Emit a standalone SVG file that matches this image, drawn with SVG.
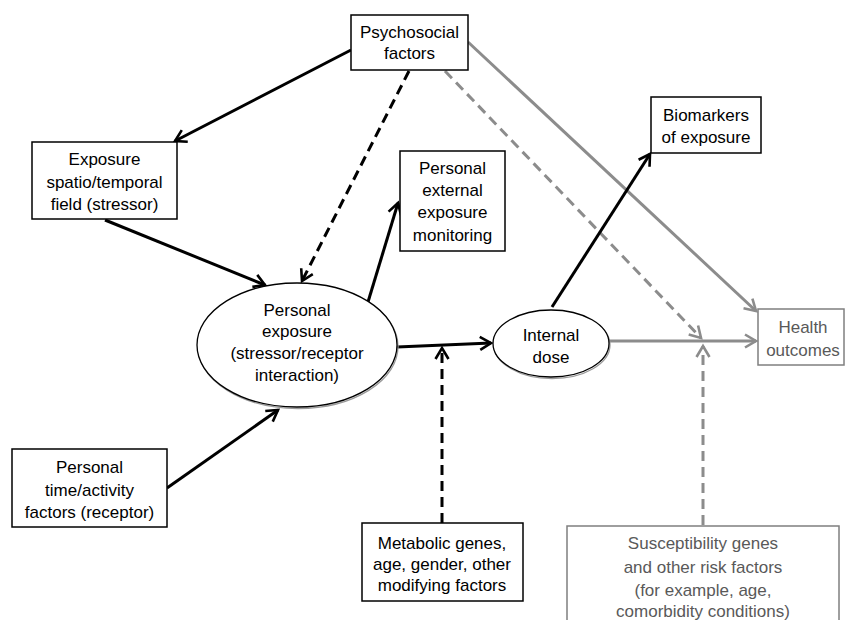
<svg xmlns="http://www.w3.org/2000/svg" width="846" height="620" viewBox="0 0 846 620">
<style>
  text { font-family: "Liberation Sans", Arial, sans-serif; font-size: 17px; text-anchor: middle; fill: #000; }
  .g text { fill: #595959; }
  .box { fill: #fff; stroke: #000; stroke-width: 1.5; }
  .gbox { fill: #fff; stroke: #7f7f7f; stroke-width: 1.5; }
  .ell { fill: #fff; stroke: #000; stroke-width: 1.3; }
  .ellsh { fill: none; stroke: #9a9a9a; stroke-width: 1.3; }
  .k { stroke: #000; stroke-width: 3; fill: none; marker-end: url(#ak); }
  .kd { stroke: #000; stroke-width: 3; fill: none; stroke-dasharray: 10 6; marker-end: url(#ak); }
  .gr { stroke: #8c8c8c; stroke-width: 3; fill: none; marker-end: url(#ag); }
  .grd { stroke: #8c8c8c; stroke-width: 3; fill: none; stroke-dasharray: 10 6; marker-end: url(#ag); }
</style>
<defs>
  <marker id="ak" markerUnits="userSpaceOnUse" markerWidth="20" markerHeight="20" viewBox="-14 -10 16 20" refX="0" refY="0" orient="auto">
    <path d="M -11 -6.5 L 0 0 L -11 6.5" fill="none" stroke="#000" stroke-width="2.6"/>
  </marker>
  <marker id="ag" markerUnits="userSpaceOnUse" markerWidth="20" markerHeight="20" viewBox="-14 -10 16 20" refX="0" refY="0" orient="auto">
    <path d="M -11 -6.5 L 0 0 L -11 6.5" fill="none" stroke="#8c8c8c" stroke-width="2.6"/>
  </marker>
</defs>
<rect width="846" height="620" fill="#fff"/>

<g id="connectors">
  <line class="k" x1="351" y1="50" x2="175" y2="141"/>
  <line class="kd" x1="409" y1="71" x2="302" y2="281"/>
  <line class="gr" x1="468" y1="42" x2="756" y2="311"/>
  <line class="grd" x1="445" y1="71" x2="701" y2="338"/>
  <line class="k" x1="105" y1="220" x2="265" y2="285"/>
  <line class="k" x1="167" y1="488" x2="278" y2="410"/>
  <line class="k" x1="368" y1="302" x2="398" y2="203"/>
  <line class="k" x1="397" y1="347" x2="491" y2="343"/>
  <line class="kd" x1="442" y1="523" x2="442" y2="348"/>
  <line class="k" x1="552" y1="307" x2="650" y2="154"/>
  <line class="gr" x1="609" y1="341" x2="756" y2="341"/>
  <line class="grd" x1="703" y1="525" x2="703" y2="346"/>
</g>

<g id="psychosocial">
  <rect class="box" x="351" y="15" width="117" height="55"/>
  <text x="409.5" y="38">Psychosocial</text>
  <text x="409.5" y="59">factors</text>
</g>

<g id="exposure-field">
  <rect class="box" x="32" y="142" width="145" height="77"/>
  <text x="104.5" y="165">Exposure</text>
  <text x="104.5" y="188">spatio/temporal</text>
  <text x="104.5" y="210">field (stressor)</text>
</g>

<g id="personal-exposure">
  <ellipse class="ellsh" cx="298" cy="346.5" rx="100" ry="62"/>
  <ellipse class="ell" cx="297" cy="345" rx="100" ry="62"/>
  <text x="297" y="316">Personal</text>
  <text x="297" y="337">exposure</text>
  <text x="297" y="359">(stressor/receptor</text>
  <text x="297" y="381">interaction)</text>
</g>

<g id="personal-external">
  <rect class="box" x="400" y="151" width="105" height="100"/>
  <text x="452.5" y="174">Personal</text>
  <text x="452.5" y="196">external</text>
  <text x="452.5" y="218">exposure</text>
  <text x="452.5" y="241">monitoring</text>
</g>

<g id="internal-dose">
  <ellipse class="ellsh" cx="552" cy="345" rx="58" ry="33.5"/>
  <ellipse class="ell" cx="551" cy="343.5" rx="58" ry="33.5"/>
  <text x="551" y="341">Internal</text>
  <text x="551" y="363">dose</text>
</g>

<g id="biomarkers">
  <rect class="box" x="651" y="97" width="110" height="56"/>
  <text x="706" y="121">Biomarkers</text>
  <text x="706" y="143">of exposure</text>
</g>

<g id="health-outcomes" class="g">
  <rect class="gbox" x="758" y="309" width="86" height="56"/>
  <text x="803" y="333">Health</text>
  <text x="803" y="356">outcomes</text>
</g>

<g id="personal-time">
  <rect class="box" x="12" y="449" width="155" height="78"/>
  <text x="89.5" y="473">Personal</text>
  <text x="89.5" y="496">time/activity</text>
  <text x="89.5" y="518">factors (receptor)</text>
</g>

<g id="metabolic">
  <rect class="box" x="362" y="523" width="161" height="78"/>
  <text x="442" y="549">Metabolic genes,</text>
  <text x="442" y="570">age, gender, other</text>
  <text x="442" y="591">modifying factors</text>
</g>

<g id="susceptibility" class="g">
  <rect class="gbox" x="567" y="526" width="272" height="100"/>
  <text x="703" y="549">Susceptibility genes</text>
  <text x="703" y="573">and other risk factors</text>
  <text x="703" y="596">(for example, age,</text>
  <text x="703" y="617">comorbidity conditions)</text>
</g>
</svg>
